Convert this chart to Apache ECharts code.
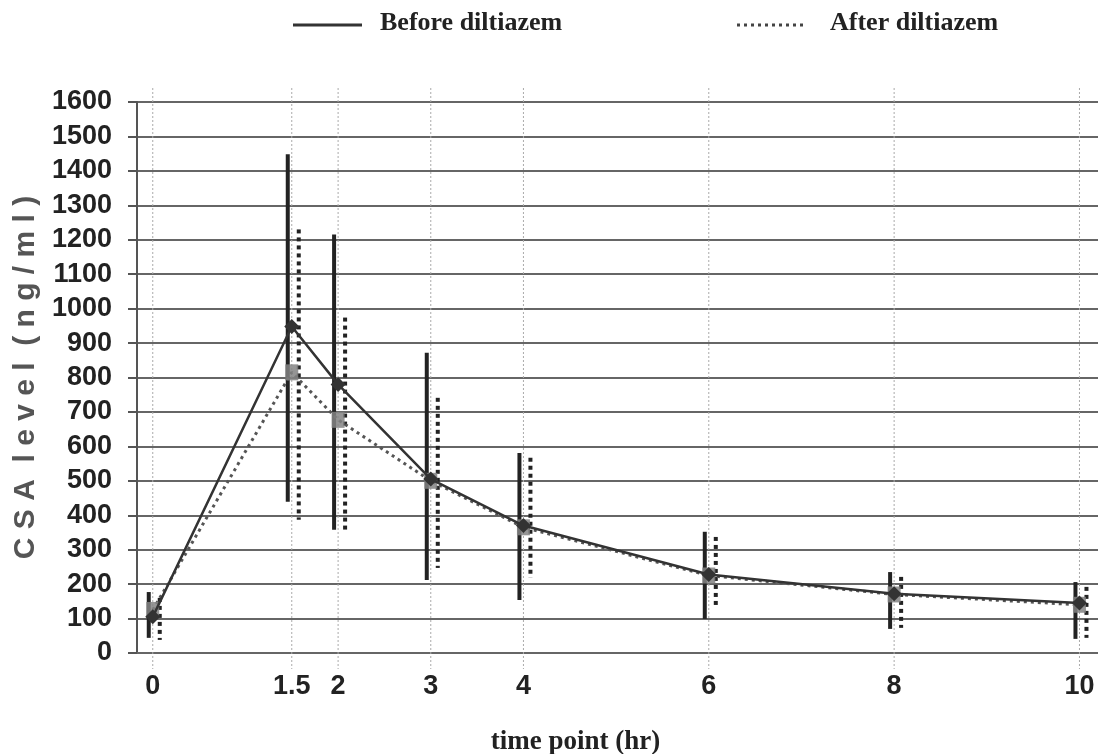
<!DOCTYPE html>
<html>
<head>
<meta charset="utf-8">
<script src="https://cdn.jsdelivr.net/npm/echarts@6/dist/echarts.min.js"></script>
<style>
  html, body { margin: 0; padding: 0; background: #fff; }
  #chart { width: 1098px; height: 754px; }
</style>
</head>
<body>
<div id="chart"></div>
<script>
// time points (hr)
const timePoints = [0, 1.5, 2, 3, 4, 6, 8, 10];

// before diltiazem: mean, lower and upper end of the bar
const beforeMean = [105, 948, 780, 505, 370, 228, 172, 145];
const beforeLow = [44, 439, 358, 212, 154, 99, 70, 41];
const beforeHigh = [177, 1448, 1215, 872, 581, 352, 235, 206];

// after diltiazem
const afterMean = [125, 815, 677, 500, 365, 225, 170, 140];
const afterLow = [38, 387, 358, 247, 218, 131, 73, 44];
const afterHigh = [160, 1230, 974, 741, 567, 337, 221, 192];

const yTicks = [0, 1600, 100]; // min, max, step

const sansBold = "'Liberation Sans Narrow', 'Liberation Sans', Arial, sans-serif";

const chart = echarts.init(document.getElementById('chart'));

function pairs(ys) {
  return timePoints.map((t, i) => [t, ys[i]]);
}
function bars(lo, hi) {
  return timePoints.map((t, i) => [t, lo[i], hi[i]]);
}

// draws one vertical bar, shifted a few px sideways
function barRenderer(dx, dash) {
  return function (params, api) {
    const top = api.coord([api.value(0), api.value(2)]);
    const bot = api.coord([api.value(0), api.value(1)]);
    return {
      type: 'line',
      shape: { x1: top[0] + dx, y1: top[1], x2: bot[0] + dx, y2: bot[1] },
      style: { stroke: '#222', lineWidth: 4, lineDash: dash }
    };
  };
}

const option = {
  backgroundColor: '#fff',
  animation: false,
  grid: { left: 137, right: 0, top: 102, bottom: 101, outerBoundsMode: 'none' },
  xAxis: {
    type: 'value',
    min: -0.17,
    max: 10.2,
    name: 'time point (hr)',
    nameLocation: 'middle',
    nameGap: 76,
    nameTextStyle: {
      fontFamily: 'Liberation Serif', fontWeight: 'bold', fontSize: 27, color: '#222',
      padding: [0, 84, 0, 0]
    },
    axisLine: { show: true, onZero: false, lineStyle: { color: '#666', width: 2 } },
    axisTick: { show: false },
    splitLine: { show: false },
    axisLabel: {
      customValues: timePoints,
      margin: 20,
      fontFamily: sansBold, fontWeight: 'bold', fontSize: 27, color: '#222'
    }
  },
  yAxis: {
    type: 'value',
    min: yTicks[0],
    max: yTicks[1],
    interval: yTicks[2],
    name: 'C S A  l e v e l  ( n g / m l )',
    nameLocation: 'middle',
    nameGap: 92,
    nameTextStyle: {
      fontFamily: 'Liberation Sans', fontWeight: 'bold', fontSize: 30, color: '#555'
    },
    axisLine: { show: true, onZero: false, lineStyle: { color: '#555', width: 2 } },
    axisTick: { show: true, length: 9, lineStyle: { color: '#555', width: 2 } },
    splitLine: { show: true, lineStyle: { color: '#666', width: 2 } },
    axisLabel: {
      margin: 25,
      formatter: v => String(v),
      fontFamily: sansBold, fontWeight: 'bold', fontSize: 27, color: '#222'
    }
  },
  graphic: [
    { type: 'line', shape: { x1: 293, y1: 25, x2: 362, y2: 25 }, style: { stroke: '#333', lineWidth: 3 } },
    { type: 'text', left: 380, top: 10, style: { text: 'Before diltiazem', font: 'bold 26px "Liberation Serif"', fill: '#222' } },
    { type: 'line', shape: { x1: 737, y1: 25, x2: 807, y2: 25 }, style: { stroke: '#444', lineWidth: 3, lineDash: [3, 4] } },
    { type: 'text', left: 830, top: 10, style: { text: 'After diltiazem', font: 'bold 26px "Liberation Serif"', fill: '#222' } }
  ],
  series: [
    {
      // dotted vertical grid lines at the time points
      type: 'custom',
      silent: true,
      clip: false,
      data: timePoints.map(t => [t]),
      renderItem: function (params, api) {
        const top = api.coord([api.value(0), yTicks[1]]);
        const bot = api.coord([api.value(0), yTicks[0]]);
        return {
          type: 'line',
          shape: { x1: top[0], y1: top[1] - 14, x2: bot[0], y2: bot[1] + 16 },
          style: { stroke: '#aaa', lineWidth: 1, lineDash: [2, 2] }
        };
      },
      z: 1
    },
    {
      type: 'custom',
      name: 'Before bars',
      data: bars(beforeLow, beforeHigh),
      renderItem: barRenderer(-4, null),
      z: 3
    },
    {
      type: 'custom',
      name: 'After bars',
      data: bars(afterLow, afterHigh),
      renderItem: barRenderer(7, [4, 4]),
      z: 3
    },
    {
      name: 'After diltiazem',
      type: 'line',
      data: pairs(afterMean),
      symbol: 'rect',
      symbolSize: [13, 16],
      itemStyle: { color: 'rgba(130,130,130,0.85)' },
      lineStyle: { color: '#555', width: 3, type: [3, 4] },
      z: 4
    },
    {
      name: 'Before diltiazem',
      type: 'line',
      data: pairs(beforeMean),
      symbol: 'diamond',
      symbolSize: 15,
      itemStyle: { color: '#333' },
      lineStyle: { color: '#333', width: 2.5 },
      z: 5
    }
  ]
};

chart.setOption(option);
</script>
</body>
</html>
